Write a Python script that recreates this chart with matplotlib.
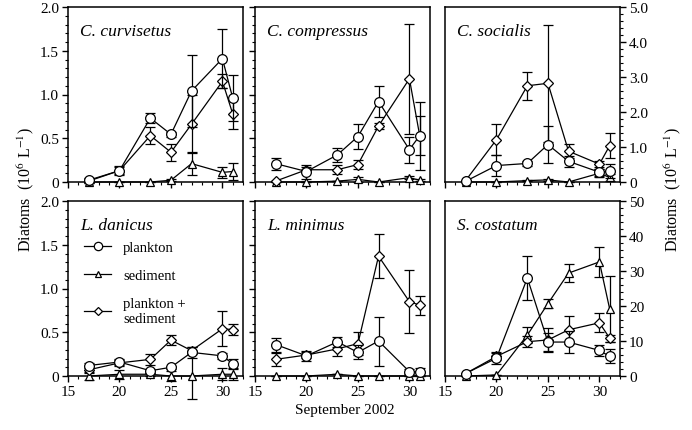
import matplotlib
matplotlib.use("Agg")
import matplotlib.pyplot as plt
from matplotlib.lines import Line2D
from matplotlib.ticker import MultipleLocator, FixedLocator, FixedFormatter

plt.rcParams.update(
    {
        "font.family": "Liberation Serif",
        "mathtext.fontset": "stix",
        "font.size": 10.5,
        "axes.linewidth": 1.1,
        "xtick.direction": "out",
        "ytick.direction": "out",
        "xtick.major.size": 4.5,
        "ytick.major.size": 4.5,
        "xtick.minor.size": 2.5,
        "ytick.minor.size": 2.5,
        "xtick.major.width": 1.0,
        "ytick.major.width": 1.0,
        "xtick.minor.width": 0.8,
        "ytick.minor.width": 0.8,
    }
)

# sampling days, September 2002
dates = [17, 20, 23, 25, 27, 30, 31]

# C. curvisetus
curv_plank = [0.02, 0.13, 0.73, 0.545, 1.04, 1.41, 0.96]
curv_plank_err = [0.03, 0.05, 0.06, 0.03, 0.41, 0.34, 0.26]
curv_sed = [0.0, 0.0, 0.0, 0.02, 0.21, 0.11, 0.12]
curv_sed_err = [0.0, 0.0, 0.0, 0.01, 0.13, 0.06, 0.10]
curv_tot = [0.01, 0.13, 0.53, 0.34, 0.66, 1.15, 0.78]
curv_tot_err = [0.02, 0.04, 0.10, 0.10, 0.33, 0.08, 0.17]

# C. compressus
comp_plank = [0.21, 0.12, 0.31, 0.52, 0.92, 0.37, 0.53]
comp_plank_err = [0.07, 0.08, 0.08, 0.14, 0.18, 0.15, 0.22]
comp_sed = [0.0, 0.0, 0.01, 0.03, 0.0, 0.05, 0.02]
comp_sed_err = [0.0, 0.0, 0.0, 0.03, 0.0, 0.02, 0.01]
comp_tot = [0.01, 0.14, 0.14, 0.20, 0.64, 1.18, 0.53]
comp_tot_err = [0.0, 0.03, 0.05, 0.05, 0.03, 0.63, 0.39]

# C. socialis
soc_plank = [0.02, 0.47, 0.53, 1.07, 0.59, 0.28, 0.32]
soc_plank_err = [0.02, 0.30, 0.08, 0.54, 0.16, 0.10, 0.20]
soc_sed = [0.0, 0.0, 0.04, 0.06, 0.0, 0.25, 0.13]
soc_sed_err = [0.0, 0.0, 0.02, 0.03, 0.0, 0.12, 0.10]
soc_tot = [0.04, 1.21, 2.75, 2.82, 0.88, 0.51, 1.04]
soc_tot_err = [0.03, 0.45, 0.40, 1.67, 0.20, 0.08, 0.35]

# L. danicus
dan_plank = [0.12, 0.16, 0.06, 0.10, 0.27, 0.23, 0.14]
dan_plank_err = [0.03, 0.03, 0.02, 0.02, 0.06, 0.03, 0.05]
dan_sed = [0.0, 0.02, 0.02, 0.0, 0.0, 0.02, 0.02]
dan_sed_err = [0.05, 0.05, 0.02, 0.06, 0.26, 0.07, 0.06]
dan_tot = [0.07, 0.15, 0.19, 0.41, 0.29, 0.54, 0.53]
dan_tot_err = [0.04, 0.03, 0.06, 0.06, 0.04, 0.20, 0.06]

# L. minimus
min_plank = [0.36, 0.23, 0.39, 0.27, 0.40, 0.05, 0.05]
min_plank_err = [0.08, 0.06, 0.06, 0.08, 0.28, 0.03, 0.04]
min_sed = [0.0, 0.0, 0.02, 0.0, 0.0, 0.0, 0.0]
min_sed_err = [0.0, 0.0, 0.0, 0.0, 0.0, 0.0, 0.0]
min_tot = [0.19, 0.24, 0.31, 0.37, 1.37, 0.85, 0.81]
min_tot_err = [0.07, 0.03, 0.08, 0.13, 0.25, 0.36, 0.11]

# S. costatum
cost_plank = [0.7, 5.1, 28.0, 9.7, 9.7, 7.3, 5.6]
cost_plank_err = [0.3, 1.8, 6.3, 2.5, 3.2, 1.5, 2.0]
cost_sed = [0.0, 0.3, 11.7, 20.7, 29.4, 32.6, 19.1]
cost_sed_err = [0.0, 0.0, 2.4, 1.2, 2.5, 4.2, 9.5]
cost_tot = [0.7, 5.6, 9.8, 10.3, 13.2, 15.2, 10.8]
cost_tot_err = [0.2, 1.0, 1.5, 3.3, 4.0, 2.7, 1.0]

names = ["C. curvisetus", "C. compressus", "C. socialis",
         "L. danicus", "L. minimus", "S. costatum"]

ticks_small = [0, 0.5, 1.0, 1.5, 2.0]
labels_small = ["0", "0.5", "1.0", "1.5", "2.0"]
ticks_mid = [0, 1.0, 2.0, 3.0, 4.0, 5.0]
labels_mid = ["0", "1.0", "2.0", "3.0", "4.0", "5.0"]
ticks_big = [0, 10, 20, 30, 40, 50]
labels_big = ["0", "10", "20", "30", "40", "50"]
x_ticks = [15, 20, 25, 30]

panels = [
    (curv_plank, curv_plank_err, curv_sed, curv_sed_err, curv_tot, curv_tot_err),
    (comp_plank, comp_plank_err, comp_sed, comp_sed_err, comp_tot, comp_tot_err),
    (soc_plank, soc_plank_err, soc_sed, soc_sed_err, soc_tot, soc_tot_err),
    (dan_plank, dan_plank_err, dan_sed, dan_sed_err, dan_tot, dan_tot_err),
    (min_plank, min_plank_err, min_sed, min_sed_err, min_tot, min_tot_err),
    (cost_plank, cost_plank_err, cost_sed, cost_sed_err, cost_tot, cost_tot_err),
]

W, H = 692, 431
fig = plt.figure(figsize=(W / 100, H / 100), dpi=100)

lefts = [68, 255, 445]
tops = [8, 202]
pw, ph = 175, 175

marker_kw = dict(color="black", lw=0.9, mfc="white", mec="black", mew=0.9)
err_kw = dict(elinewidth=0.9, capsize=3.5, capthick=1.4, clip_on=False, **marker_kw)

for idx, (pl, ple, se, see, to, toe) in enumerate(panels):
    row, col = divmod(idx, 3)
    rect = [lefts[col] / W, 1 - (tops[row] + ph) / H, pw / W, ph / H]
    ax = fig.add_axes(rect)

    ax.errorbar(dates, se, yerr=see, marker="^", ms=5.5, zorder=3, **err_kw)
    ax.errorbar(dates, to, yerr=toe, marker="D", ms=4.8, zorder=4, **err_kw)
    ax.errorbar(dates, pl, yerr=ple, marker="o", ms=7.0, zorder=5, **err_kw)

    ax.set_xlim(15, 32)
    ax.xaxis.set_major_locator(FixedLocator(x_ticks))
    ax.xaxis.set_minor_locator(MultipleLocator(1))
    if row == 0:
        ax.tick_params(axis="x", labelbottom=False)

    if col == 2:
        if row == 0:
            ax.set_ylim(0, 5.0)
            ax.yaxis.set_major_locator(FixedLocator(ticks_mid))
            ax.yaxis.set_major_formatter(FixedFormatter(labels_mid))
            ax.yaxis.set_minor_locator(MultipleLocator(0.2))
        else:
            ax.set_ylim(0, 50)
            ax.yaxis.set_major_locator(FixedLocator(ticks_big))
            ax.yaxis.set_major_formatter(FixedFormatter(labels_big))
            ax.yaxis.set_minor_locator(MultipleLocator(2))
        ax.yaxis.tick_right()
    else:
        ax.set_ylim(0, 2.0)
        ax.yaxis.set_major_locator(FixedLocator(ticks_small))
        ax.yaxis.set_major_formatter(FixedFormatter(labels_small))
        ax.yaxis.set_minor_locator(MultipleLocator(0.1))
        if col == 1:
            ax.tick_params(axis="y", labelleft=False)
    ax.tick_params(which="both", pad=2, labelsize=11)

    ax.text(0.07, 0.86, names[idx], transform=ax.transAxes, ha="left", va="center",
            fontsize=12.5, style="italic")

    if idx == 3:
        handles = [
            Line2D([], [], marker="o", ms=6.0, **marker_kw),
            Line2D([], [], marker="^", ms=4.8, **marker_kw),
            Line2D([], [], marker="D", ms=4.0, **marker_kw),
        ]
        ax.legend(handles, ["plankton", "sediment", "plankton +\nsediment"],
                  loc="upper left", bbox_to_anchor=(0.09, 0.77),
                  frameon=False, borderpad=0, borderaxespad=0, handlelength=1.9,
                  handletextpad=0.8, labelspacing=1.0, fontsize=10.5)

fig.text(26 / W, 1 - 190 / H, "Diatoms  (10$^6$ L$^{-1}$)", rotation=90,
         ha="center", va="center", fontsize=11.5)
fig.text(673 / W, 1 - 190 / H, "Diatoms  (10$^6$ L$^{-1}$)", rotation=90,
         ha="center", va="center", fontsize=11.5)
fig.text(345 / W, 1 - 411 / H, "September 2002", ha="center", va="center", fontsize=11)

fig.savefig("out.png", dpi=100)
